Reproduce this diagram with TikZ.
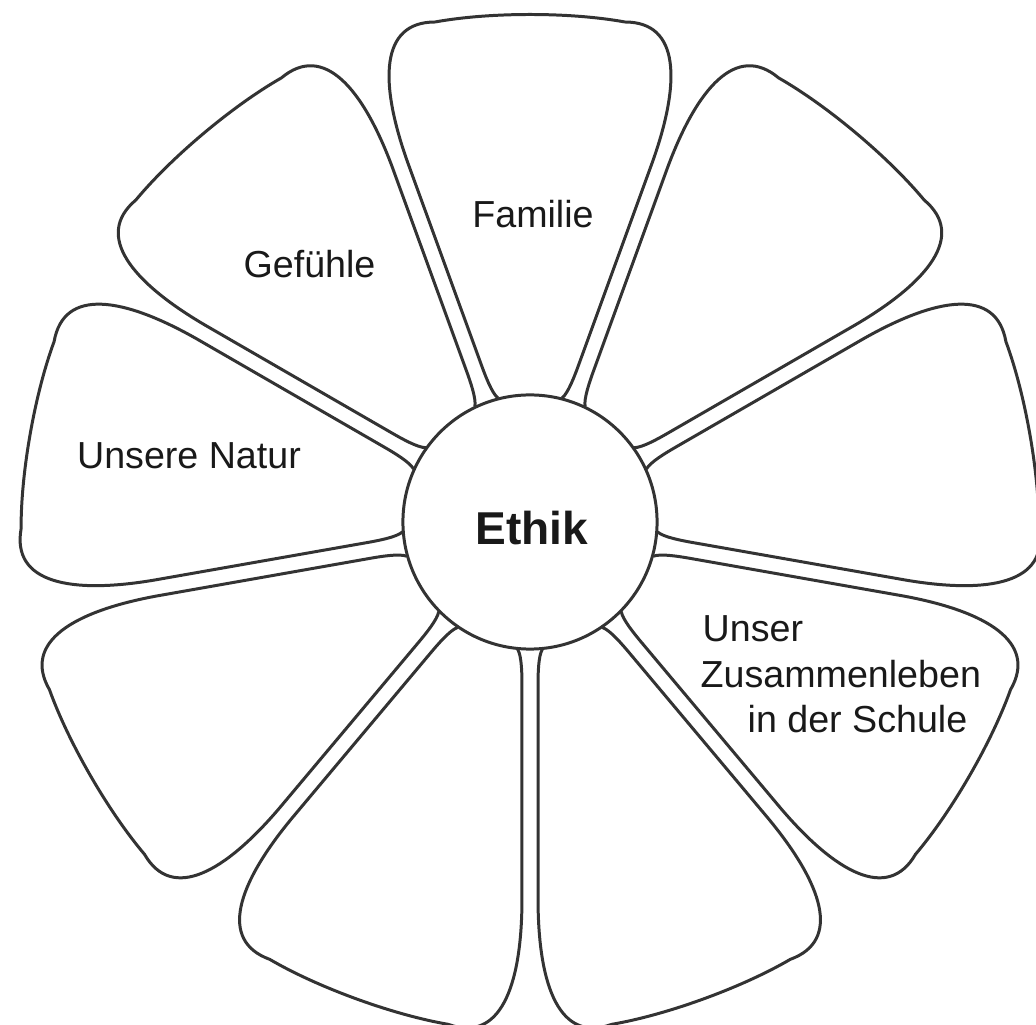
\documentclass[tikz,border=0pt]{standalone}
\usepackage{fontspec}
\setmainfont{Liberation Sans}
\usepackage{tikz}
\usetikzlibrary{positioning}

\begin{document}
\begin{tikzpicture}[x=0.01cm, y=0.01cm,
    petal/.style={draw=black!80, line width=0.85pt, line join=round},
    hub/.style={draw=black!80, line width=0.85pt, fill=white, circle, minimum size=2.54cm, inner sep=0pt},
    word/.style={font=\fontsize{10.7pt}{12.9pt}\selectfont, text=black!90, inner sep=0pt}]
    \useasboundingbox (0,0) rectangle (1036,-1025);
    \coordinate (mid) at (530,-522);

    % Blaetter
    \foreach \a in {90,50,...,-230} {
        \begin{scope}[shift={(mid)}, rotate=\a]
            \draw[petal] (123.9,-32.0) .. controls (128.9,-38.2) and (146.5,-44.8) .. (157.8,-48.9)
                -- (359.8,-122.4) .. controls (440,-151) and (500,-150) .. (500,-95)
                .. controls (510,-40) and (510,40) .. (500,95)
                .. controls (500,150) and (440,151) .. (359.8,122.4)
                -- (157.8,48.9) .. controls (146.5,44.8) and (128.9,38.2) .. (123.9,32.0);
        \end{scope}
    }

    % Mitte
    \node [hub] (kreis) at (mid) {};
    \node [word, anchor=base, font=\fontsize{13.1pt}{15pt}\selectfont\bfseries] (ethik) at (531.7,-545) {Ethik};

    % Beschriftung
    \node [word, anchor=base] (familie) at (533,-228) {Familie};
    \node [word, anchor=base] (gefuehle) at (309.5,-278) {Gefühle};
    \node [word, anchor=base] (natur) at (189,-469) {Unsere Natur};
    \node [word, anchor=base west] (unser) at (702,-642) {Unser};
    \node [word, anchor=base west] (zusammen) at (700,-688) {Zusammenleben};
    \node [word, anchor=base west] (schule) at (747,-733) {in der Schule};
\end{tikzpicture}
\end{document}
